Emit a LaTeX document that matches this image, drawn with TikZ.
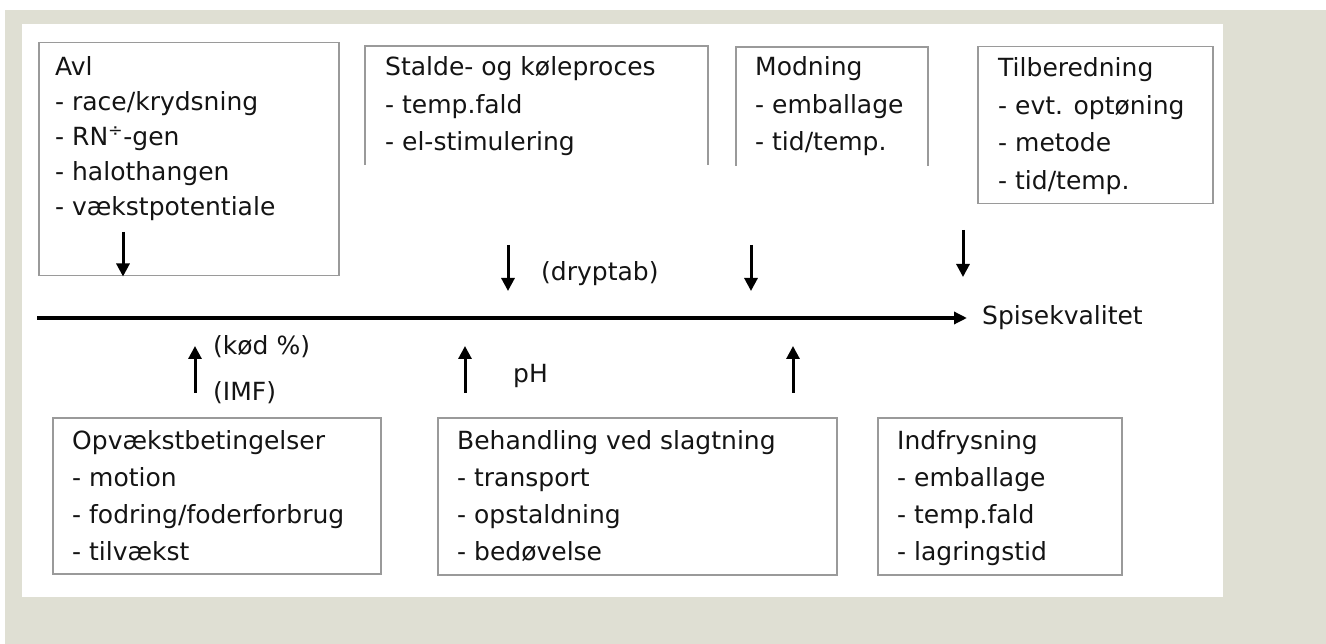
\documentclass[tikz,border=0pt]{standalone}
\usepackage{fontspec}
\setmainfont{DejaVu Sans}
\usetikzlibrary{arrows.meta}
\definecolor{beige}{HTML}{DFDFD3}
\definecolor{boxgray}{HTML}{9A9A9A}
\definecolor{ink}{HTML}{141414}
\tikzset{
  box/.style={draw=boxgray, line width=1.5pt, fill=white, inner sep=0pt, anchor=north west},
  openbox/.style={draw=boxgray, line width=1.5pt},
  txt/.style={anchor=base west, inner sep=0pt, text=ink, font=\fontsize{25}{30}\selectfont},
  arr/.style={draw=black, line width=3pt, -{Triangle[length=13pt,width=13pt]}},
  mainarr/.style={draw=black, line width=3.8pt, -{Triangle[length=13pt,width=12pt]}}
}
\newcommand{\boxtext}[5]{% name, x, y, spacing, list
  \foreach \t [count=\i] in {#5}{
    \node[txt] (#1-\i) at (#2, {#3+(\i-1)*#4}) {\t};
  }
}
\begin{document}
\begin{tikzpicture}[x=1pt,y=-1pt]
\useasboundingbox (0,0) rectangle (1326,644);
\fill[white] (0,0) rectangle (1326,644);
\fill[beige] (5,10) rectangle (1326,644);
\fill[white] (22,24) rectangle (1223,597);

% top boxes
\node[box, minimum width=300pt, minimum height=233pt] (avl) at (38,42) {};
\boxtext{avlt}{55}{76}{35}{Avl,- race/krydsning,- RN\textsuperscript{÷}-gen,- halothangen,- vækstpotentiale}

\coordinate (sta-nw) at (365,46);
\coordinate (sta-ne) at (708,46);
\draw[openbox] (365,165) -- (sta-nw) -- (sta-ne) -- (708,165);
\boxtext{stat}{385}{76}{37.5}{Stalde- og køleproces,- temp.fald,- el-stimulering}

\coordinate (mod-nw) at (736,47);
\coordinate (mod-ne) at (928,47);
\draw[openbox] (736,166) -- (mod-nw) -- (mod-ne) -- (928,166);
\boxtext{modt}{755}{76}{37.5}{Modning,- emballage,- tid/temp.}

\node[box, minimum width=235pt, minimum height=157pt] (til) at (977,46) {};
\boxtext{tilt}{998}{77}{37.5}{Tilberedning,- evt. optøning,- metode,- tid/temp.}

% bottom boxes
\node[box, minimum width=328pt, minimum height=156pt] (opv) at (52,417) {};
\boxtext{opvt}{72}{449}{37.3}{Opvækstbetingelser,- motion,- fodring/foderforbrug,- tilvækst}

\node[box, minimum width=399pt, minimum height=157pt] (beh) at (437,417) {};
\boxtext{beht}{457}{449}{37.3}{Behandling ved slagtning,- transport,- opstaldning,- bedøvelse}

\node[box, minimum width=244pt, minimum height=157pt] (ind) at (877,417) {};
\boxtext{indt}{897}{449}{37.3}{Indfrysning,- emballage,- temp.fald,- lagringstid}

% main axis
\coordinate (axstart) at (37,318);
\node[txt] (spise) at (982,325) {Spisekvalitet};
\coordinate (axend) at (967,318);
\draw[mainarr] (axstart) -- (axend);

% down arrows
\coordinate (d1s) at (123,232);
\draw[arr] (d1s) -- (avl.south -| d1s);
\coordinate (d2s) at (508,245); \coordinate (d2e) at (508,291);
\draw[arr] (d2s) -- (d2e);
\node[txt] (drip) at (541,281) {(dryptab)};
\coordinate (d3s) at (751,245); \coordinate (d3e) at (751,291);
\draw[arr] (d3s) -- (d3e);
\coordinate (d4s) at (963,230); \coordinate (d4e) at (963,277);
\draw[arr] (d4s) -- (d4e);

% up arrows
\coordinate (u1s) at (195,393); \coordinate (u1e) at (195,346);
\draw[arr] (u1s) -- (u1e);
\node[txt] (kod) at (213,355) {(kød \%)};
\node[txt] (imf) at (213,400) {(IMF)};
\coordinate (u2s) at (465,393); \coordinate (u2e) at (465,346);
\draw[arr] (u2s) -- (u2e);
\node[txt] (ph) at (513,382) {pH};
\coordinate (u3s) at (793,393); \coordinate (u3e) at (793,346);
\draw[arr] (u3s) -- (u3e);
\end{tikzpicture}
\end{document}
